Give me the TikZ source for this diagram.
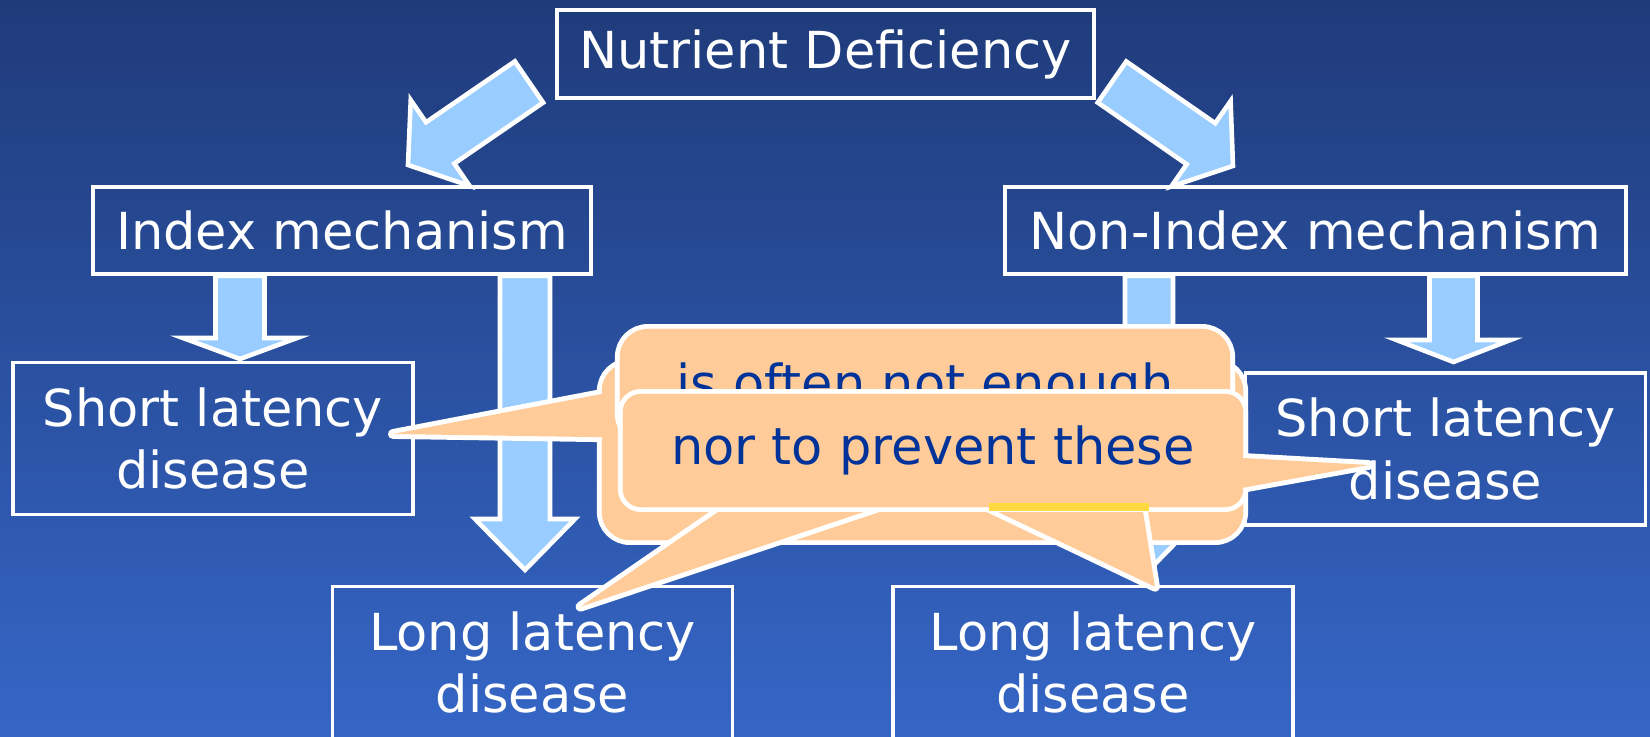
\documentclass[tikz,border=0pt]{standalone}
\usepackage{xcolor}
\usepackage{fontspec}
\setmainfont{DejaVu Sans}
\usepackage{tikz}
\usetikzlibrary{calc}

\definecolor{bgtop}{HTML}{1F3B7A}
\definecolor{bgbot}{HTML}{3566C6}
\definecolor{arrowblue}{HTML}{99CCFF}
\definecolor{peach}{HTML}{FFCC99}
\definecolor{inkblue}{HTML}{003399}
\definecolor{marker}{HTML}{FFD940}

% block arrow: tail, tip, shaft half width, head half width, head length (px)
\newcommand{\fatarrow}[5]{%
  \draw[fatarr] ($(#1)!{#3*0.01cm}!90:(#2)$)
    -- ($(#2)!{#5*0.01cm}!(#1)!{#3*0.01cm}!90:(#2)$)
    -- ($(#2)!{#5*0.01cm}!(#1)!{#4*0.01cm}!90:(#2)$)
    -- (#2)
    -- ($(#2)!{#5*0.01cm}!(#1)!{#4*0.01cm}!-90:(#2)$)
    -- ($(#2)!{#5*0.01cm}!(#1)!{#3*0.01cm}!-90:(#2)$)
    -- ($(#1)!{#3*0.01cm}!-90:(#2)$) -- cycle;}

\begin{document}
\begin{tikzpicture}[x=0.01cm, y=-0.01cm, font=\fontsize{14.5pt}{17.9pt}\selectfont,
    box/.style={draw=white, line width=1pt, text=white, align=center, inner sep=0pt},
    disease/.style={box, minimum width=4cm, minimum height=1.52cm},
    fatarr/.style={fill=arrowblue, draw=white, line width=1.3pt},
    bubble/.style={fill=peach, preaction={draw=white, line width=2.8pt}, outer sep=0pt},
    tipline/.style={draw=white, line width=2.8pt, line join=round},
    saying/.style={text=inkblue, inner sep=0pt}]

            \useasboundingbox (0,0) rectangle (1650,737);
            \fill[top color=bgtop, bottom color=bgbot] (0,0) rectangle (1650,737);

            % boxes
            \node[box, minimum width=5.37cm, minimum height=0.88cm] (nd) at (825.5,54) {Nutrient Deficiency};
            \node[box, minimum width=4.98cm, minimum height=0.87cm] (idx) at (342,230.5) {Index mechanism};
            \node[box, minimum width=6.21cm, minimum height=0.87cm] (nidx) at (1315.5,230.5) {Non-Index mechanism};
            \node[disease] (slL) at (213,438.5) {Short latency\\disease};
            \node[disease] (llL) at (532.5,662.5) {Long latency\\disease};
            \node[disease] (llR) at (1093,662.5) {Long latency\\disease};
            \node[disease] (slR) at (1445.5,449) {Short latency\\disease};

            % arrows
            \coordinate (dl1) at (529,82);
            \coordinate (dl2) at (408,165);
            \coordinate (dr1) at (1112,82);
            \coordinate (dr2) at (1233,166);
            \fatarrow{dl1}{dl2}{25}{52}{39}
            \fatarrow{dr1}{dr2}{25}{52}{39}

            \coordinate (v1a) at (240,0 |- idx.south);
            \coordinate (v1b) at (240,359);
            \coordinate (v2a) at (525,0 |- idx.south);
            \coordinate (v2b) at (525,570);
            \coordinate (v3a) at (1149,0 |- nidx.south);
            \coordinate (v3b) at (1149,570);
            \coordinate (v4a) at (1453.5,0 |- nidx.south);
            \coordinate (v4b) at (1453.5,362);
            \fatarrow{v1a}{v1b}{24.5}{57}{21}
            \fatarrow{v2a}{v2b}{25}{50}{51}
            \fatarrow{v3a}{v3b}{24}{50}{51}
            \fatarrow{v4a}{v4b}{24}{57}{22}

            % back callout
            \node[bubble, rounded corners=0.28cm, minimum width=6.41cm, minimum height=1.77cm] (cbk) at (922.5,451.5) {};
            \coordinate (bk1) at ($(cbk.west)+(18,-61)$);
            \coordinate (bk2) at ($(cbk.west)+(18,-14)$);
            \coordinate (bktip) at ($(slL.east)+(-22,-4.5)$);
            \draw[tipline] (bk1) -- (bktip) -- (bk2);
            \fill[peach] (bk1) -- (bktip) -- (bk2) -- cycle;
            \fill[peach, rounded corners=0.28cm] (cbk.south west) rectangle (cbk.north east);

            % upper callout
            \node[bubble, rounded corners=0.28cm, minimum width=6.1cm, minimum height=1.13cm] (cfr) at (925,385.5) {};
            \coordinate (fr1) at ($(cfr.south)+(-88,-12)$);
            \coordinate (fr2) at ($(cfr.south)+(184,-12)$);
            \coordinate (frtip) at ($(llL.north)+(48,22)$);
            \coordinate (fr3) at ($(cfr.south)+(-99,-12)$);
            \coordinate (fr4) at ($(cfr.south)+(205,-12)$);
            \coordinate (frtip2) at ($(llR.north)+(62,2)$);
            \draw[tipline] (fr1) -- (frtip) -- (fr2);
            \draw[tipline] (fr3) -- (frtip2) -- (fr4);
            \fill[peach] (fr1) -- (frtip) -- (fr2) -- cycle;
            \fill[peach] (fr3) -- (frtip2) -- (fr4) -- cycle;
            \fill[peach, rounded corners=0.28cm] (cfr.south west) rectangle (cfr.north east);
            \node[saying] (often) at ($(cfr.center)+(0,2)$) {is often not enough};

            % front callout
            \node[bubble, rounded corners=0.18cm, minimum width=6.2cm, minimum height=1.13cm] (cnr) at (933,450.5) {};
            \coordinate (nr1) at ($(cnr.east)+(-18,6.5)$);
            \coordinate (nr2) at ($(cnr.east)+(-18,40.5)$);
            \coordinate (nrtip) at ($(slR.west)+(125,16)$);
            \draw[tipline] (nr1) -- (nrtip) -- (nr2);
            \fill[peach] (nr1) -- (nrtip) -- (nr2) -- cycle;
            \fill[peach, rounded corners=0.18cm] (cnr.south west) rectangle (cnr.north east);
            \node[saying] (prevent) at (cnr.center) {nor to prevent these};

            \fill[marker] (989,503) rectangle (1149,511);

\end{tikzpicture}
\end{document}
